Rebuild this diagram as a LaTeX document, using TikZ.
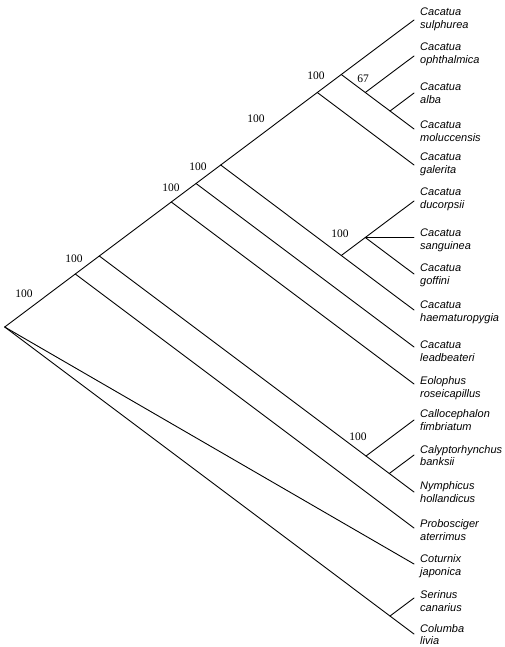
\documentclass[tikz,border=0pt]{standalone}
\usepackage{fontspec}
\setmainfont{Liberation Serif}
\setsansfont{Liberation Sans}
\begin{document}
\begin{tikzpicture}[x=1pt,y=-1pt,
  branch/.style={line width=0.9pt,line cap=round,line join=round},
  taxon/.style={anchor=west,inner sep=0pt,align=left,font=\fontsize{11}{12.8}\selectfont\sffamily\itshape},
  boot/.style={inner sep=0pt,font=\fontsize{11.5}{13}\selectfont\rmfamily}]
\useasboundingbox (0,0) rectangle (504,647);
% leaf tips
\coordinate (l1) at (414,20);
\coordinate (l2) at (414,56);
\coordinate (l3) at (414,93);
\coordinate (l4) at (414,129);
\coordinate (l5) at (414,165);
\coordinate (l6) at (414,201);
\coordinate (l7) at (414,237.5);
\coordinate (l8) at (414,274);
\coordinate (l9) at (414,310);
\coordinate (l10) at (414,347);
\coordinate (l11) at (414,384);
\coordinate (l12) at (414,420);
\coordinate (l13) at (414,455);
\coordinate (l14) at (414,492);
\coordinate (l15) at (414,528);
\coordinate (l16) at (414,564);
\coordinate (l17) at (414,598);
\coordinate (l18) at (414,634);
% internal nodes
\coordinate (S) at (390,111);
\coordinate (R) at (365.3,92.5);
\coordinate (Q) at (341.3,74.5);
\coordinate (P) at (317.3,92.5);
\coordinate (D) at (365.3,237.5);
\coordinate (T) at (341.3,255.5);
\coordinate (U) at (220.7,165);
\coordinate (V) at (196,183.5);
\coordinate (W) at (171.3,202);
\coordinate (Y) at (389.3,473.5);
\coordinate (Z) at (366,456);
\coordinate (X) at (99.3,256);
\coordinate (O) at (75.3,274);
\coordinate (G) at (390,616);
\coordinate (root) at (4.7,327);
% branches
\draw[branch] (root) -- (O) -- (X) -- (W) -- (V) -- (U) -- (P) -- (Q) -- (l1);
\draw[branch] (Q) -- (R) -- (S) -- (l4);
\draw[branch] (R) -- (l2);
\draw[branch] (S) -- (l3);
\draw[branch] (P) -- (l5);
\draw[branch] (U) -- (T) -- (l9);
\draw[branch] (T) -- (D) -- (l6);
\draw[branch] (D) -- (l7);
\draw[branch] (D) -- (l8);
\draw[branch] (V) -- (l10);
\draw[branch] (W) -- (l11);
\draw[branch] (X) -- (Z) -- (Y) -- (l14);
\draw[branch] (Z) -- (l12);
\draw[branch] (Y) -- (l13);
\draw[branch] (O) -- (l15);
\draw[branch] (root) -- (l16);
\draw[branch] (root) -- (G) -- (l18);
\draw[branch] (G) -- (l17);
% taxon labels
\node[taxon] (t1) at (420,19) {Cacatua\\sulphurea};
\node[taxon] (t2) at (420,54.5) {Cacatua\\ophthalmica};
\node[taxon] (t3) at (420,93) {Cacatua\\alba};
\node[taxon] (t4) at (420,131) {Cacatua\\moluccensis};
\node[taxon] (t5) at (420,164.5) {Cacatua\\galerita};
\node[taxon] (t6) at (420,199.5) {Cacatua\\ducorpsii};
\node[taxon] (t7) at (420,240) {Cacatua\\sanguinea};
\node[taxon] (t8) at (420,275.5) {Cacatua\\goffini};
\node[taxon] (t9) at (420,312) {Cacatua\\haematuropygia};
\node[taxon] (t10) at (420,351) {Cacatua\\leadbeateri};
\node[taxon] (t11) at (420,388) {Eolophus\\roseicapillus};
\node[taxon] (t12) at (420,420) {Callocephalon\\fimbriatum};
\node[taxon] (t13) at (420,455.5) {Calyptorhynchus\\banksii};
\node[taxon] (t14) at (420,492) {Nymphicus\\hollandicus};
\node[taxon] (t15) at (420,530) {Probosciger\\aterrimus};
\node[taxon] (t16) at (420,566) {Coturnix\\japonica};
\node[taxon] (t17) at (420,601) {Serinus\\canarius};
\node[taxon] (t18) at (420,634.5) {Columba\\livia};
% bootstrap values
\node[boot] (bQ) at (316,76) {100};
\node[boot] (bR) at (363,79) {67};
\node[boot] (bP) at (256,119) {100};
\node[boot] (bU) at (198,167) {100};
\node[boot] (bV) at (171,188) {100};
\node[boot] (bX) at (74,259) {100};
\node[boot] (bO) at (24,294) {100};
\node[boot] (bT) at (340,234) {100};
\node[boot] (bZ) at (358,437) {100};
\end{tikzpicture}
\end{document}
